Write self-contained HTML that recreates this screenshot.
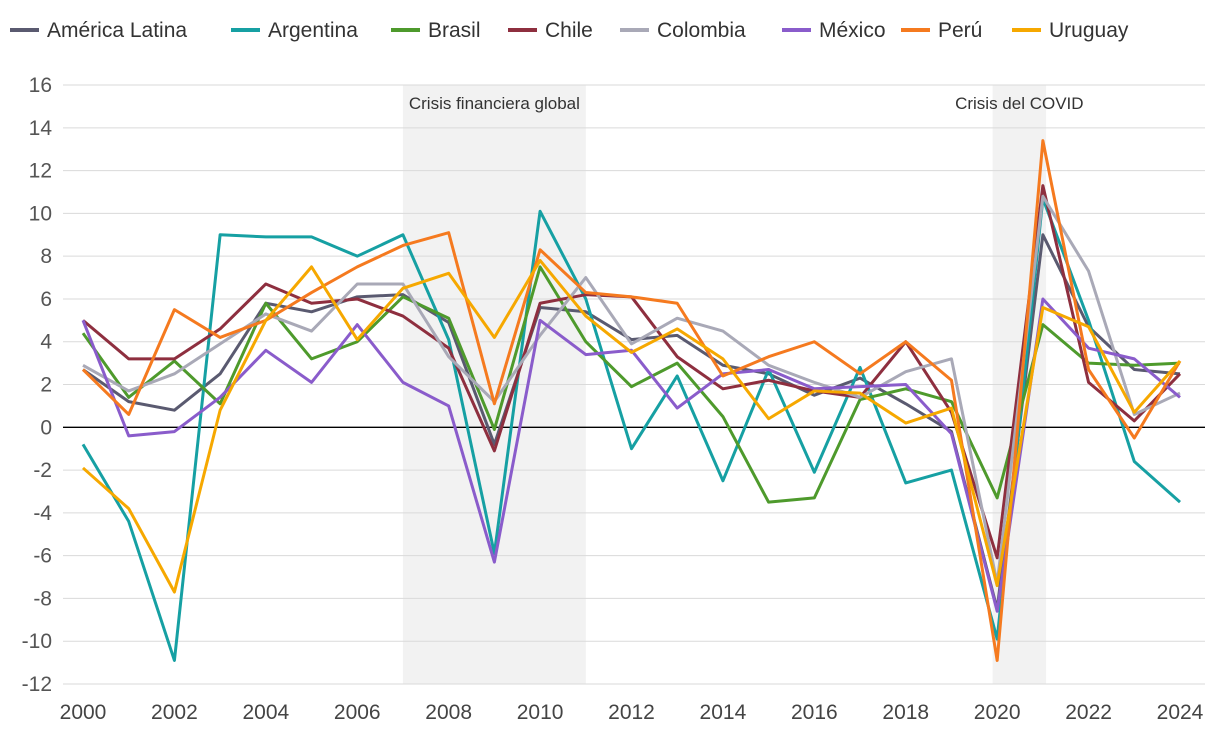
<!DOCTYPE html>
<html><head><meta charset="utf-8"><style>
html,body{margin:0;padding:0;background:#fff;}
svg{display:block;font-family:"Liberation Sans",sans-serif;}
</style></head><body>
<svg id="chart" width="1220" height="734"></svg>
<script>
const years=[2000,2001,2002,2003,2004,2005,2006,2007,2008,2009,2010,2011,2012,2013,2014,2015,2016,2017,2018,2019,2020,2021,2022,2023,2024];
const seriesNames=["América Latina","Argentina","Brasil","Chile","Colombia","México","Perú","Uruguay"];
const seriesColors=["#5a5a70","#16a0a3","#4e9a2c","#8e2f3f","#a9a9b7","#8a5ccb","#f57a1f","#f6a800"];
const latam=[2.7,1.2,0.8,2.5,5.8,5.4,6.1,6.2,4.9,-0.8,5.6,5.4,4.1,4.3,2.9,2.5,1.5,2.3,1.1,-0.2,-8.5,9.0,4.7,2.7,2.5];
const argentina=[-0.8,-4.4,-10.9,9.0,8.9,8.9,8.0,9.0,4.1,-5.9,10.1,6.0,-1.0,2.4,-2.5,2.7,-2.1,2.8,-2.6,-2.0,-9.9,10.7,5.0,-1.6,-3.5];
const brasil=[4.4,1.4,3.1,1.1,5.8,3.2,4.0,6.1,5.1,-0.1,7.5,4.0,1.9,3.0,0.5,-3.5,-3.3,1.3,1.8,1.2,-3.3,4.8,3.0,2.9,3.0];
const chile=[5.0,3.2,3.2,4.6,6.7,5.8,6.0,5.2,3.7,-1.1,5.8,6.2,6.1,3.3,1.8,2.2,1.7,1.4,4.0,0.7,-6.1,11.3,2.1,0.3,2.5];
const colombia=[2.9,1.7,2.5,3.9,5.3,4.5,6.7,6.7,3.3,1.2,4.3,7.0,3.9,5.1,4.5,2.9,2.1,1.4,2.6,3.2,-7.3,10.8,7.3,0.6,1.6];
const mexico=[5.0,-0.4,-0.2,1.4,3.6,2.1,4.8,2.1,1.0,-6.3,5.0,3.4,3.6,0.9,2.5,2.7,1.8,1.9,2.0,-0.3,-8.6,6.0,3.7,3.2,1.4];
const peru=[2.7,0.6,5.5,4.2,5.0,6.3,7.5,8.5,9.1,1.1,8.3,6.3,6.1,5.8,2.4,3.3,4.0,2.5,4.0,2.2,-10.9,13.4,2.7,-0.5,3.1];
const uruguay=[-1.9,-3.8,-7.7,0.8,5.0,7.5,4.1,6.5,7.2,4.2,7.8,5.2,3.5,4.6,3.2,0.4,1.7,1.6,0.2,0.9,-7.4,5.6,4.7,0.7,3.1];
const yTicks=[16,14,12,10,8,6,4,2,0,-2,-4,-6,-8,-10,-12];
const xTicks=[2000,2002,2004,2006,2008,2010,2012,2014,2016,2018,2020,2022,2024];
const shadeStarts=[2007,2019.9];
const shadeEnds=[2011,2021.07];
const shadeLabels=["Crisis financiera global","Crisis del COVID"];

const allSeries=[latam,argentina,brasil,chile,colombia,mexico,peru,uruguay];
const NS="http://www.w3.org/2000/svg";
const svg=document.getElementById('chart');
const x=v=>83+(v-2000)*(1097/24);
const y=v=>427.3-v*21.39;
function mk(t,a){const e=document.createElementNS(NS,t);for(const k in a)e.setAttribute(k,a[k]);svg.appendChild(e);return e;}

shadeStarts.forEach((s,i)=>{
  const r=mk('rect',{x:x(s),y:y(16),width:x(shadeEnds[i])-x(s),height:y(-12)-y(16),fill:'#f2f2f2'});
  
  
  const t=mk('text',{x:(x(s)+x(shadeEnds[i]))/2,y:109,'text-anchor':'middle','font-size':17,fill:'#333'});
  t.textContent=shadeLabels[i];
  
  
});
yTicks.forEach(v=>{
  const l=mk('line',{x1:63,x2:1205,y1:y(v),y2:y(v),stroke:v===0?'#000':'#dadada','stroke-width':v===0?1.3:1});
  
  
  const t=mk('text',{x:52,y:y(v)+7,'text-anchor':'end','font-size':21,fill:'#555'});
  t.textContent=v;
  
  
});
xTicks.forEach(v=>{
  const t=mk('text',{x:x(v),y:719,'text-anchor':'middle','font-size':21,fill:'#444'});
  t.textContent=v;
  
  
});
allSeries.forEach((d,i)=>{
  const p=mk('polyline',{points:d.map((v,j)=>x(years[j])+','+y(v)).join(' '),fill:'none',stroke:seriesColors[i],'stroke-width':3,'stroke-linejoin':'round'});
  
  
});
const legX=[10,231,391,508,620,782,901,1012];
seriesNames.forEach((n,i)=>{
  const g=mk('g',{});
  
  
  const l=document.createElementNS(NS,'line');
  l.setAttribute('x1',legX[i]);l.setAttribute('x2',legX[i]+29);l.setAttribute('y1',30);l.setAttribute('y2',30);
  l.setAttribute('stroke',seriesColors[i]);l.setAttribute('stroke-width',4);
  g.appendChild(l);
  const t=document.createElementNS(NS,'text');
  t.setAttribute('x',legX[i]+37);t.setAttribute('y',37);t.setAttribute('font-size',21);t.setAttribute('fill','#333');
  t.textContent=n;g.appendChild(t);
});
</script>
</body></html>
